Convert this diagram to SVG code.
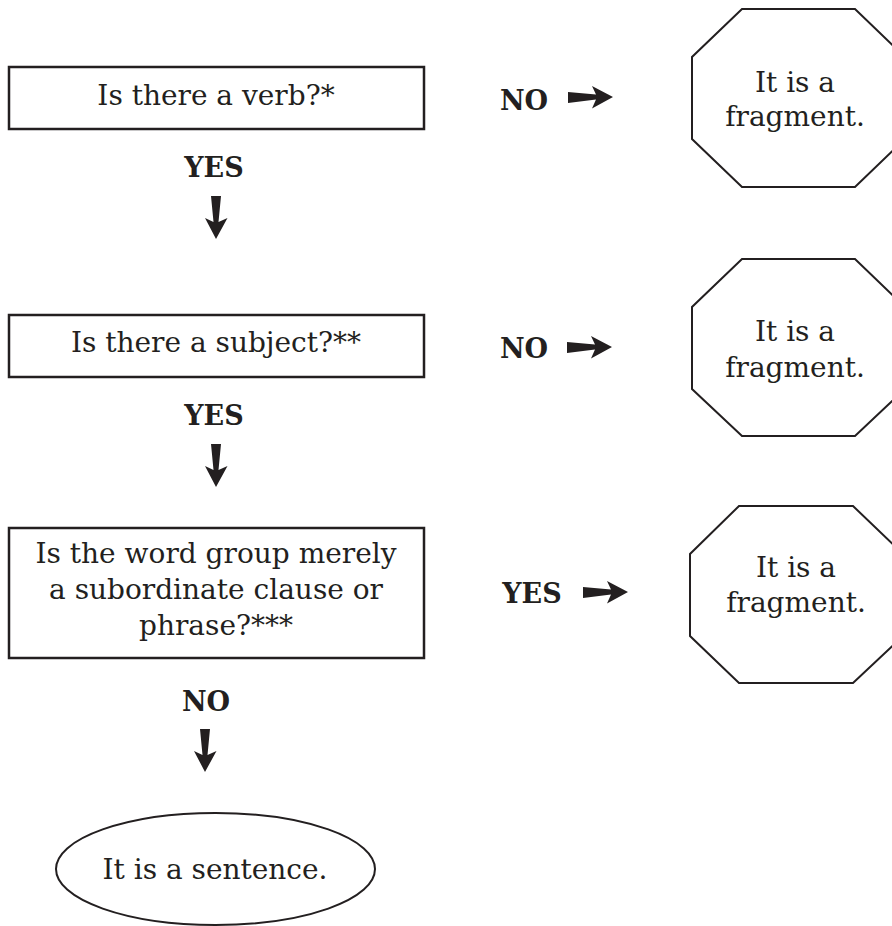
<svg xmlns="http://www.w3.org/2000/svg" width="892" height="926" viewBox="0 0 892 926">
<defs>
<style>
.box{fill:#fff;stroke:#231f20;stroke-width:2.5}
.oct{fill:#fff;stroke:#231f20;stroke-width:2}
.t{font-family:"DejaVu Serif","Liberation Serif",serif;font-size:28px;fill:#231f20;text-anchor:middle}
.lbl{font-family:"DejaVu Serif","Liberation Serif",serif;font-size:27px;font-weight:bold;fill:#231f20;text-anchor:middle}
.arr{fill:#231f20}
</style>
<polygon id="down" points="-5,-43 5,-43 2.5,-17 11.5,-21 0,0 -11,-21 -2.5,-17"/>
<polygon id="right" points="-45,-5 -17,-2.5 -21,-11 0,0 -21,11.5 -17,2.5 -45,6"/>
</defs>
<rect width="892" height="926" fill="#fff"/>
<g id="q1">
<rect class="box" x="9" y="67" width="415" height="62"/>
<text class="t" x="216" y="105">Is there a verb?*</text>
</g>
<g id="q2">
<rect class="box" x="9" y="315" width="415" height="62"/>
<text class="t" x="216" y="352">Is there a subject?**</text>
</g>
<g id="q3">
<rect class="box" x="9" y="528" width="415" height="130"/>
<text class="t" x="216" y="563">Is the word group merely</text>
<text class="t" x="216" y="599">a subordinate clause or</text>
<text class="t" x="216" y="635">phrase?***</text>
</g>
<g id="f1">
<polygon class="oct" points="742,9 855,9 905,57 905,139 855,187 742,187 692,139 692,57"/>
<text class="t" x="795" y="92">It is a</text>
<text class="t" x="795" y="126">fragment.</text>
</g>
<g id="f2">
<polygon class="oct" points="742,259 855,259 905,307 905,389 855,436 742,436 692,389 692,307"/>
<text class="t" x="795" y="341">It is a</text>
<text class="t" x="795" y="377">fragment.</text>
</g>
<g id="f3">
<polygon class="oct" points="739,506 853,506 903,554 903,636 853,683 739,683 690,636 690,554"/>
<text class="t" x="796" y="577">It is a</text>
<text class="t" x="796" y="612">fragment.</text>
</g>
<g id="s">
<ellipse class="oct" cx="215.5" cy="869" rx="159.5" ry="56"/>
<text class="t" x="215" y="879">It is a sentence.</text>
</g>
<g id="connectors">
<text class="lbl" x="214" y="177">YES</text>
<use href="#down" class="arr" x="216" y="239"/>
<text class="lbl" x="214" y="425">YES</text>
<use href="#down" class="arr" x="216" y="487"/>
<text class="lbl" x="206" y="711">NO</text>
<use href="#down" class="arr" x="205" y="772"/>
<text class="lbl" x="524" y="110">NO</text>
<use href="#right" class="arr" x="613" y="97"/>
<text class="lbl" x="524" y="358">NO</text>
<use href="#right" class="arr" x="612" y="347"/>
<text class="lbl" x="532" y="603">YES</text>
<use href="#right" class="arr" x="628" y="592"/>
</g>
</svg>
